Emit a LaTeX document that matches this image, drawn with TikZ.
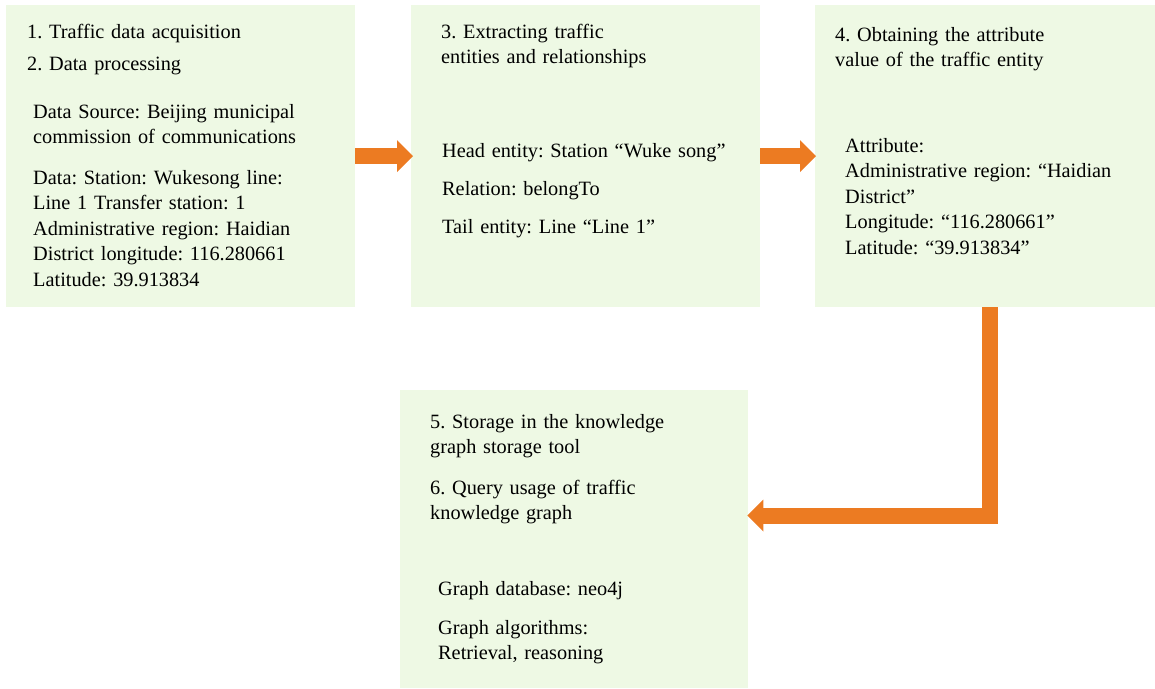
\documentclass[tikz,border=0pt]{standalone}
\usepackage{fontspec}
\setmainfont{Liberation Serif}
\usetikzlibrary{arrows.meta}
\definecolor{boxgreen}{RGB}{238,249,228}
\definecolor{arrorange}{RGB}{236,123,34}
\frenchspacing
\begin{document}
\begin{tikzpicture}[x=1pt,y=-1pt,
  box/.style={fill=boxgreen,draw=none,inner sep=0pt,anchor=north west},
  txt/.style={anchor=base west,inner sep=0pt,text width=330pt,align=left,
    font=\fontsize{20.3}{25.6}\selectfont\frenchspacing},
  flow/.style={draw=arrorange,line width=16pt,line join=miter,
    -{Triangle[width=32pt,length=16pt,line width=0pt]}}]
\useasboundingbox (0,0) rectangle (1155,688);
% boxes
\node[box,minimum width=349pt,minimum height=302pt] (b1) at (6,5) {};
\node[box,minimum width=349pt,minimum height=302pt] (b2) at (411,5) {};
\node[box,minimum width=340pt,minimum height=302pt] (b3) at (815,5) {};
\node[box,minimum width=348pt,minimum height=298pt] (b4) at (400,390) {};
% box 1 text
\node[txt] (t1a) at (27,38) {1. Traffic data acquisition};
\node[txt] (t1b) at (27,70) {2. Data processing};
\node[txt] (t1c) at (33,118) {Data Source: Beijing municipal\\commission of communications};
\node[txt] (t1d) at (33,184) {Data: Station: Wukesong line:\\Line 1 Transfer station: 1\\Administrative region: Haidian\\District longitude: 116.280661\\Latitude: 39.913834};
% box 2 text
\node[txt] (t2a) at (441,38) {3. Extracting traffic\\entities and relationships};
\node[txt] (t2b) at (442,157) {Head entity: Station “Wuke song”};
\node[txt] (t2c) at (442,195) {Relation: belongTo};
\node[txt] (t2d) at (442,233) {Tail entity: Line “Line 1”};
% box 3 text
\node[txt] (t3a) at (835,41) {4. Obtaining the attribute\\value of the traffic entity};
\node[txt] (t3b) at (845,152) {Attribute:\\Administrative region: “Haidian\\District”\\Longitude: “116.280661”\\Latitude: “39.913834”};
% box 4 text
\node[txt] (t4a) at (430,428) {5. Storage in the knowledge\\graph storage tool};
\node[txt] (t4b) at (430,494) {6. Query usage of traffic\\knowledge graph};
\node[txt] (t4c) at (438,595) {Graph database: neo4j};
\node[txt] (t4d) at (438,634) {Graph algorithms:\\Retrieval, reasoning};
% arrows
\draw[flow,shorten >=-2pt] (b1.east) -- (b2.west);
\draw[flow,shorten >=-1pt] (b2.east) -- (b3.west);
\coordinate (bend) at (989.5,515.5);
\draw[flow,shorten >=-1pt] (bend |- b3.south) -- (bend) -- (bend -| b4.east);
\end{tikzpicture}
\end{document}
